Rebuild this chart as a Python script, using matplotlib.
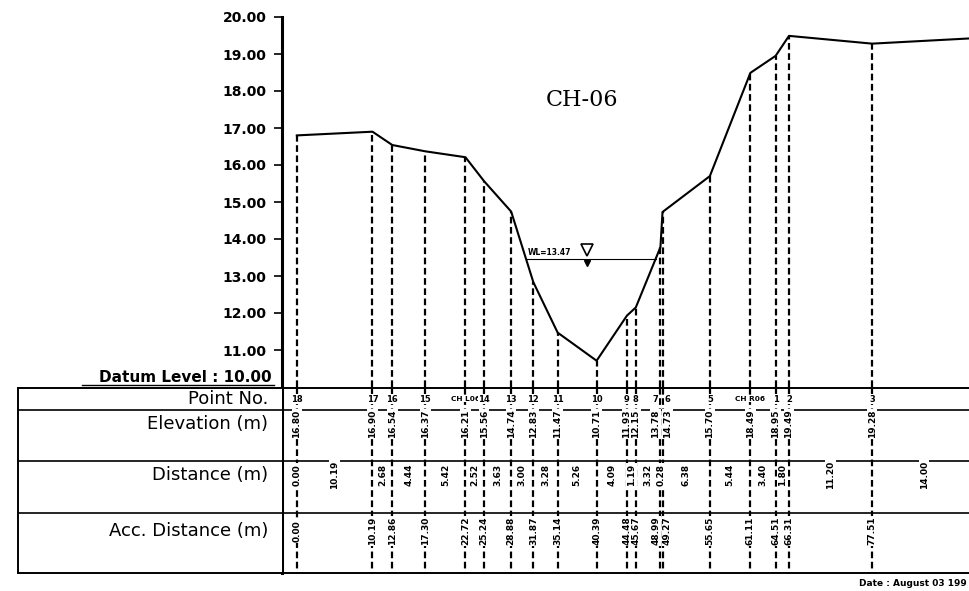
import numpy as np
import matplotlib.pyplot as plt

# survey points of cross section CH-06 (left to right)
point_ids = ["18", "17", "16", "15", "CH L06", "14", "13", "12", "11", "10",
             "9", "8", "7", "6", "5", "CH R06", "1", "2", "3", ""]
acc_dist = [0.00, 10.19, 12.86, 17.30, 22.72, 25.24, 28.88, 31.87, 35.14, 40.39,
            44.48, 45.67, 48.99, 49.27, 55.65, 61.11, 64.51, 66.31, 77.51, 91.51]
elevations = [16.80, 16.90, 16.54, 16.37, 16.21, 15.56, 14.74, 12.83, 11.47, 10.71,
              11.93, 12.15, 13.78, 14.73, 15.70, 18.49, 18.95, 19.49, 19.28, 19.43]
distances = [0.00, 10.19, 2.68, 4.44, 5.42, 2.52, 3.63, 3.00, 3.28, 5.26,
             4.09, 1.19, 3.32, 0.28, 6.38, 5.44, 3.40, 1.80, 11.20, 14.00]
y_ticks = [11, 12, 13, 14, 15, 16, 17, 18, 19, 20]
water_level = 13.47
datum_level = 10.00
section_name = "CH-06"
row_names = ["Point No.", "Elevation (m)", "Distance (m)", "Acc. Distance (m)"]

W, H = 970, 591
X_MIN, X_MAX = -2.0, 90.7


def box(l, t, r, b):
    # pixel rectangle -> figure fraction
    return [l / W, 1 - b / H, (r - l) / W, (b - t) / H]


fig = plt.figure(figsize=(W / 100, H / 100), dpi=100)
fig.patch.set_facecolor("white")
dash = (0, (3, 1.6))

# ---- profile -------------------------------------------------------------
ax = fig.add_axes(box(282, 17, 970, 387))
ax.plot(acc_dist, elevations, color="black", lw=1.5, zorder=3)
ax.vlines(acc_dist, datum_level, elevations, colors="black", linestyles=dash, lw=1.6)
ax.set_xlim(X_MIN, X_MAX)
ax.set_ylim(datum_level, 20)
ax.set_xticks([])
ax.set_yticks(y_ticks)
ax.set_yticklabels([f"{v:.2f}" for v in y_ticks], fontsize=10, fontweight="bold")
ax.tick_params(axis="y", direction="out", length=6, width=1.2, pad=5)
for s in ["top", "right", "bottom"]:
    ax.spines[s].set_visible(False)
ax.spines["left"].set_linewidth(2.2)

# water level line between the two banks
xs = np.array(acc_dist)
zs = np.array(elevations)
i_low = int(np.argmin(zs))
x_left = np.interp(water_level, zs[:i_low + 1][::-1], xs[:i_low + 1][::-1])
x_right = np.interp(water_level, zs[i_low:], xs[i_low:])
ax.plot([x_left, x_right], [water_level, water_level], color="black", lw=0.8)
ax.text(x_left + 0.2, water_level + 0.05, f"WL={water_level:.2f}", fontsize=5.5,
        fontweight="bold", va="bottom")
ax.plot(x_left + 8.2, water_level + 0.22, marker="v", ms=8, mfc="white", mec="black", mew=1.2)
ax.plot(x_left + 8.2, water_level - 0.12, marker="v", ms=4, color="black")

ax.text(38.4, 17.76, section_name, fontsize=16, family="DejaVu Serif",
        ha="center", va="center")

# ---- table ---------------------------------------------------------------
row_edges = [0, 22, 73, 125, 185]
row_text_y = [11, 36, 87, 143]

tab = fig.add_axes(box(282, 388, 970, 573))
tab.set_xlim(X_MIN, X_MAX)
tab.set_ylim(185, 0)
tab.set_xticks([])
tab.set_yticks([])
tab.spines["right"].set_visible(False)
tab.spines["left"].set_linewidth(2.2)
tab.spines["top"].set_linewidth(1.4)
tab.spines["bottom"].set_linewidth(1.4)
for y in row_edges[1:-1]:
    tab.axhline(y, color="black", lw=1.2)
tab.vlines(acc_dist, 0, 185, colors="black", linestyles=dash, lw=1.6)

# spread labels of points that nearly coincide so both stay readable
label_x = list(acc_dist)
for i in range(1, len(label_x)):
    if acc_dist[i] - acc_dist[i - 1] < 0.6:
        label_x[i - 1] -= 0.65
        label_x[i] += 0.65

num_kw = dict(fontsize=6.5, fontweight="bold", ha="center", va="center",
              bbox=dict(fc="white", ec="none", pad=0.6))
for i, x in enumerate(label_x):
    if x > X_MAX:
        continue
    pid = point_ids[i]
    tab.text(x, row_text_y[0], pid, fontsize=5.3 if len(pid) > 2 else 6,
             fontweight="bold", ha="center", va="center",
             bbox=dict(fc="white", ec="none", pad=0.3))
    tab.text(x, row_text_y[1], f"{elevations[i]:.2f}", rotation=90, **num_kw)
    tab.text(x, row_text_y[3], f"{acc_dist[i]:.2f}", rotation=90, **num_kw)

# distances: first at the start point, the rest midway between points
tab.text(acc_dist[0], row_text_y[2], f"{distances[0]:.2f}", rotation=90, **num_kw)
for i in range(1, len(acc_dist)):
    xm = (acc_dist[i - 1] + acc_dist[i]) / 2
    if xm > X_MAX:
        continue
    tab.text(xm, row_text_y[2], f"{distances[i]:.2f}", rotation=90, **num_kw)

# row names column
lab = fig.add_axes(box(18, 388, 282, 573))
lab.set_xlim(0, 264)
lab.set_ylim(185, 0)
lab.set_xticks([])
lab.set_yticks([])
for s in lab.spines.values():
    s.set_linewidth(1.4)
lab.spines["right"].set_visible(False)
for y in row_edges[1:-1]:
    lab.axhline(y, color="black", lw=1.2)
for name, y in zip(row_names, row_text_y):
    lab.text(250, y, name, fontsize=13, ha="right", va="center")

lab.text(254, -2.5, f"Datum Level : {datum_level:.2f}", fontsize=11, fontweight="bold",
         ha="right", va="bottom")
lab.plot([64, 256], [-3.5, -3.5], color="black", lw=1.0, clip_on=False)

fig.text(967 / W, 1 - 584 / H, "Date : August 03 199", fontsize=6.5, fontweight="bold",
         ha="right", va="center")

fig.savefig("out.png", dpi=100)
